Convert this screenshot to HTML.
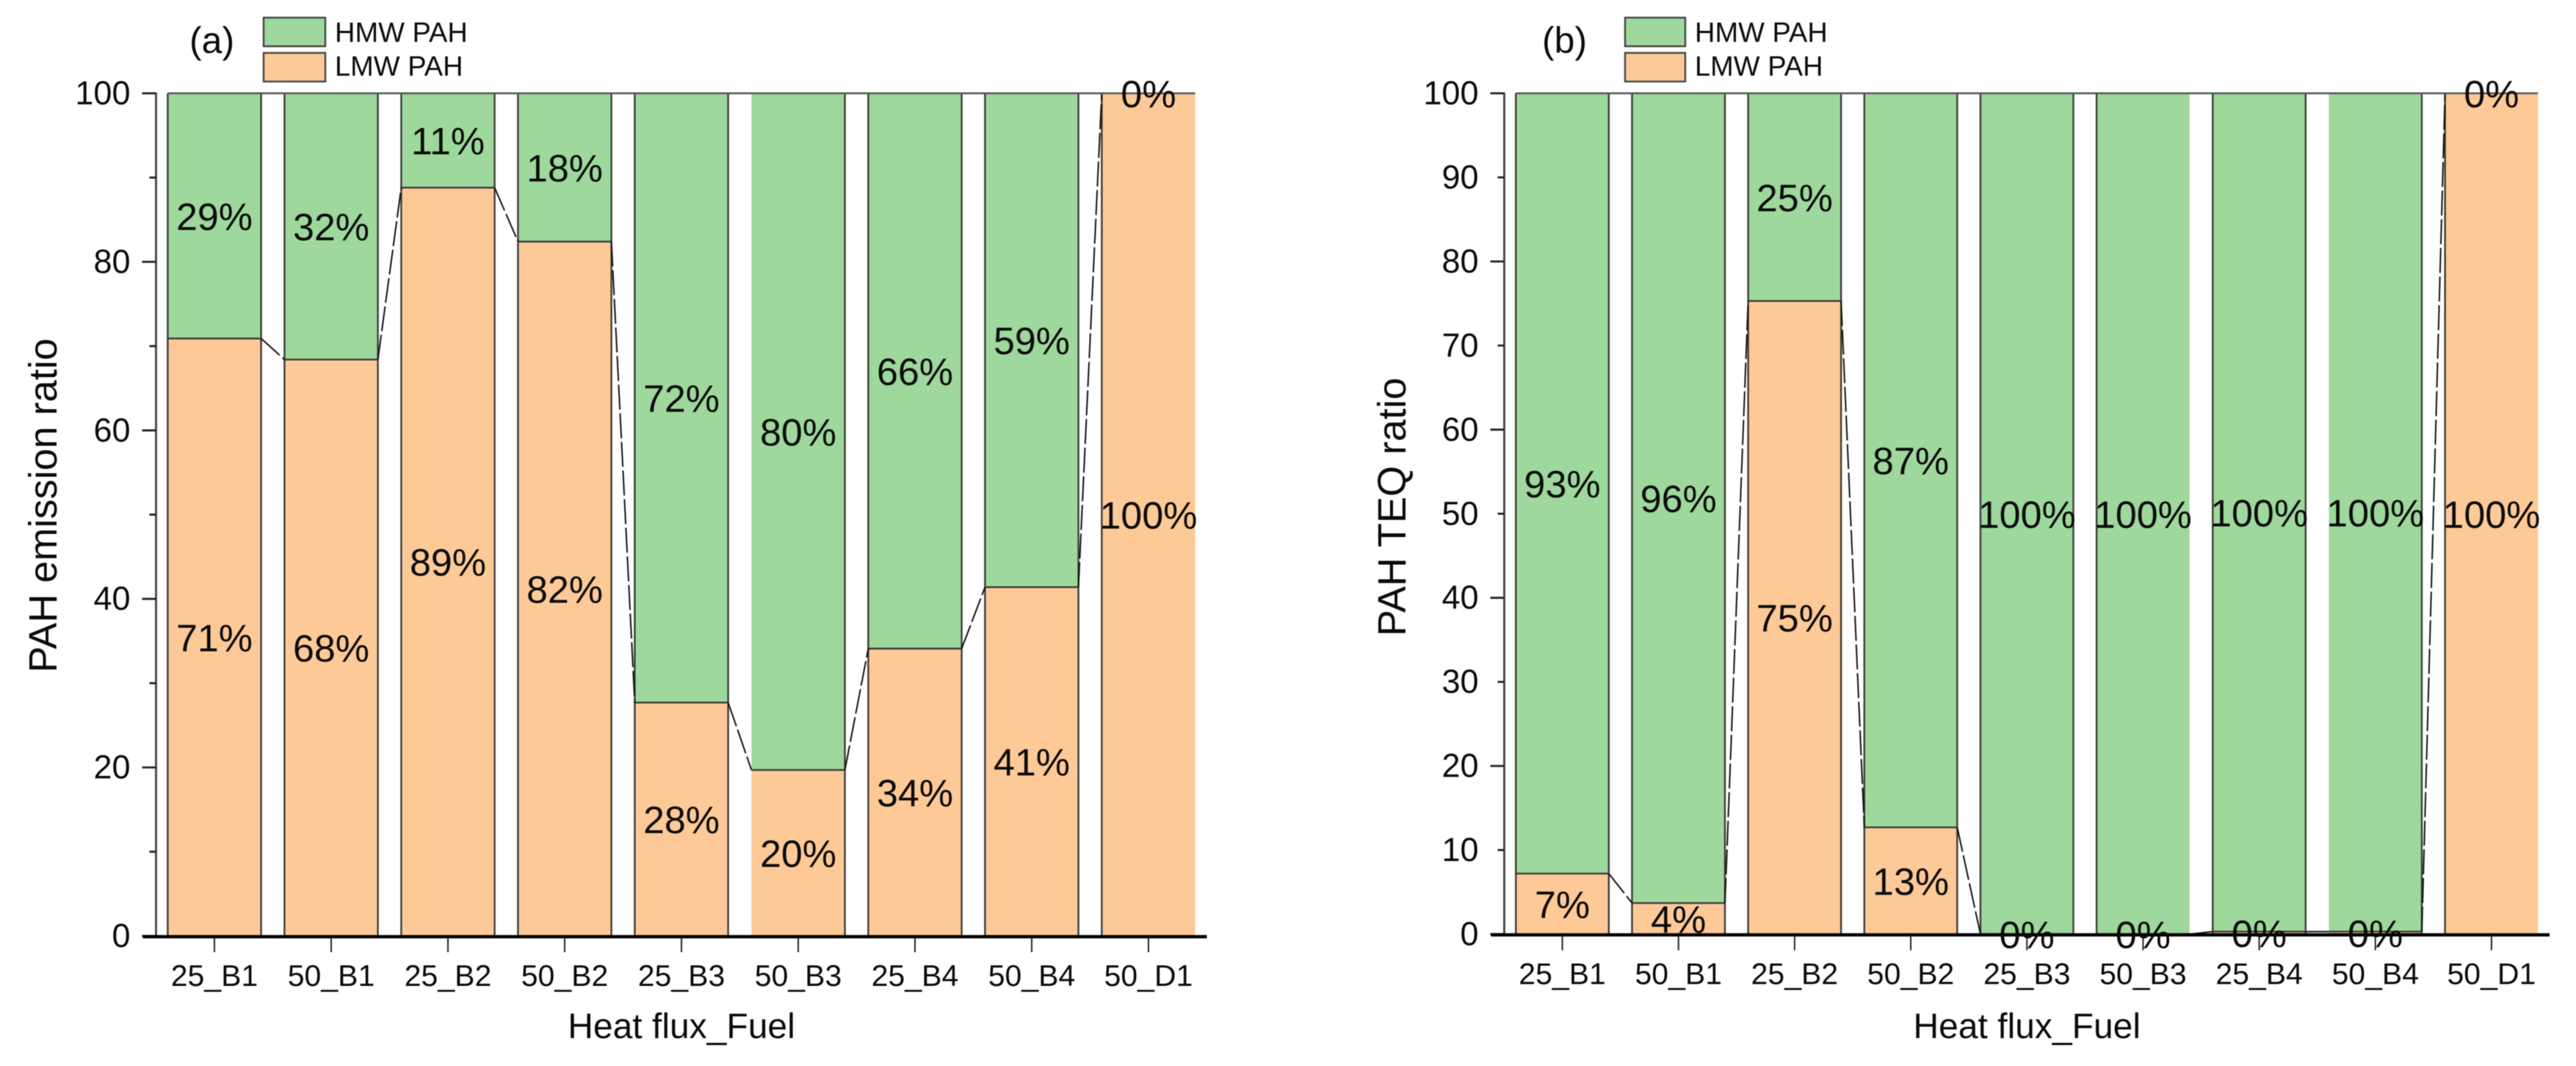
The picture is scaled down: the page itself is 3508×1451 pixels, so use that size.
<!DOCTYPE html>
<html lang="en">
<head>
<meta charset="utf-8">
<title>PAH emission and TEQ ratios</title>
<style>
html,body{margin:0;padding:0;background:#fff;width:3508px;height:1451px;overflow:hidden}
svg{display:block;filter:blur(0.6px)}
text{font-family:"Liberation Sans",Arial,sans-serif;fill:#0a0a0a}
</style>
</head>
<body>
<svg id="figure" xmlns="http://www.w3.org/2000/svg" width="3508" height="1451" viewBox="0 0 3508 1451"></svg>
<script>
const categories = ['25_B1','50_B1','25_B2','50_B2','25_B3','50_B3','25_B4','50_B4','50_D1'];
const lmwEmission = [70.9,68.4,88.8,82.4,27.7,19.7,34.1,41.4,100];
const hmwEmission = [29.1,31.6,11.2,17.6,72.3,80.3,65.9,58.6,0];
const lmwTeq = [7.2,3.7,75.3,12.7,0,0,0.3,0.3,100];
const hmwTeq = [92.8,96.3,24.7,87.3,100,100,99.7,99.7,0];
const emissionTicks = [0,10,20,30,40,50,60,70,80,90,100];
const emissionTickLabels = ['0','','20','','40','','60','','80','','100'];
const teqTicks = [0,10,20,30,40,50,60,70,80,90,100];
const teqTickLabels = ['0','10','20','30','40','50','60','70','80','90','100'];

const svg = document.getElementById('figure');
const NS = 'http://www.w3.org/2000/svg';
const GREEN = '#9ED89C', ORANGE = '#FDC997', EDGE = '#3a3a3a';

function make(tag, geometry, parent) {
  const el = document.createElementNS(NS, tag);
  for (const k in geometry) el.setAttribute(k, geometry[k]);
  (parent || svg).appendChild(el);
  return el;
}
function label(str, x, y, size, anchor, parent) {
  const t = make('text', {x: x, y: y, 'font-size': size, 'text-anchor': anchor || 'middle'}, parent);
  t.textContent = str;
  return t;
}

function drawPanel(p) {
  const g = make('g', {});
  
  
  const n = categories.length;
  const step = (p.xRight - p.xLeft) / n;
  const xCenter = i => p.xLeft + step * (i + 0.5);
  const yScale = v => p.yZero - (v / 100) * (p.yZero - p.yTop);
  const barW = step * 0.8;

  // stacked bars
  categories.forEach((c, i) => {
    const x = xCenter(i) - barW / 2;
    const lowTop = yScale(p.lmw[i]);
    const highTop = yScale(p.lmw[i] + p.hmw[i]);
    const low = make('rect', {x: x, y: lowTop, width: barW, height: p.yZero - lowTop, fill: ORANGE}, g);
    
    
    const high = make('rect', {x: x, y: highTop, width: barW, height: Math.max(lowTop - highTop, 0), fill: GREEN}, g);
    
    
    if (!p.noLeftEdge.includes(i)) {
      const e = make('line', {x1: x, x2: x, y1: p.yTop, y2: p.yZero, stroke: EDGE, 'stroke-width': 2.4}, g);
      
      
    }
    if (!p.noRightEdge.includes(i)) {
      const e = make('line', {x1: x + barW, x2: x + barW, y1: p.yTop, y2: p.yZero, stroke: EDGE, 'stroke-width': 2.4}, g);
      
      
    }
    if (p.lmw[i] < 100) {
      const sep = make('line', {x1: x, x2: x + barW, y1: lowTop, y2: lowTop, stroke: EDGE, 'stroke-width': 2.4}, g);
      
      
    }
  });

  // connecting lines between stacks
  for (let i = 0; i < n - 1; i++) {
    const conn = make('line', {
      x1: xCenter(i) + barW / 2, y1: yScale(p.lmw[i]),
      x2: xCenter(i + 1) - barW / 2, y2: yScale(p.lmw[i + 1]),
      stroke: '#111', 'stroke-width': 2, 'stroke-dasharray': '34 5'
    }, g);
    
    
  }

  // top frame line across bars
  const topLine = make('line', {
    x1: xCenter(0) - barW / 2, x2: xCenter(n - 1) + barW / 2,
    y1: p.yTop, y2: p.yTop, stroke: '#555', 'stroke-width': 2.4
  }, g);
  
  

  // y axis
  const yAxis = make('line', {x1: p.xLeft, x2: p.xLeft, y1: p.yTop - 1, y2: p.yZero, stroke: '#444', 'stroke-width': 2.8}, g);
  
  
  p.ticks.forEach((v, i) => {
    const major = i % 2 === 0;
    const len = major ? 19 : 9;
    const t = make('line', {x1: p.xLeft - len, x2: p.xLeft, y1: yScale(v), y2: yScale(v), stroke: '#222', 'stroke-width': 2.8}, g);
    
    
    if (p.tickLabels[i]) {
      const tl = label(p.tickLabels[i], p.xLeft - 35, yScale(v) + 15, 45, 'end', g);
      
      
    }
  });

  // x axis
  const xAxis = make('line', {x1: p.xLeft - 18, x2: p.xRight, y1: p.yZero + 1, y2: p.yZero + 1, stroke: '#000', 'stroke-width': 4.5}, g);
  
  
  categories.forEach((c, i) => {
    const t = make('line', {x1: xCenter(i), x2: xCenter(i), y1: p.yZero + 2, y2: p.yZero + 22, stroke: '#222', 'stroke-width': 2}, g);
    
    
    const tl = label(c, xCenter(i), p.yZero + 68, 41, 'middle', g);
    
    
  });

  // value labels
  categories.forEach((c, i) => {
    const lowMid = yScale(p.lmw[i] / 2);
    const highMid = yScale(p.lmw[i] + p.hmw[i] / 2);
    const a = label(Math.round(p.lmw[i]) + '%', xCenter(i), lowMid + 19, 52, 'middle', g);
    
    
    const b = label(Math.round(p.hmw[i]) + '%', xCenter(i), highMid + 19, 52, 'middle', g);
    
    
  });

  // axis titles
  const xt = label('Heat flux_Fuel', (p.xLeft + p.xRight) / 2, 1413, 48, 'middle', g);
  
  
  const yt = label(p.yTitle, 0, 0, 54, 'middle', g);
  yt.setAttribute('transform', 'translate(' + p.yTitleX + ',' + p.yTitleY + ') rotate(-90)');
  
  

  // panel letter
  const letter = label(p.letter, p.letterX, 72, 50, 'start', g);
  
  

  // legend
  const sw1 = make('rect', {x: p.legendX, y: 24, width: p.legendW, height: 39, fill: GREEN, stroke: '#444', 'stroke-width': 2.4}, g);
  
  
  const sw2 = make('rect', {x: p.legendX, y: 72, width: p.legendW, height: 39, fill: ORANGE, stroke: '#444', 'stroke-width': 2.4}, g);
  
  
  const l1 = label('HMW PAH', p.legendX + p.legendW + 13, 57, 38, 'start', g);
  
  
  const l2 = label('LMW PAH', p.legendX + p.legendW + 13, 103, 38, 'start', g);
  
  
}

drawPanel({
  name: 'emission', letter: '(a)', letterX: 258, yTitle: 'PAH emission ratio', yTitleX: 77, yTitleY: 688,
  lmw: lmwEmission, hmw: hmwEmission, ticks: emissionTicks, tickLabels: emissionTickLabels,
  xLeft: 212.5, xRight: 1643.5, yTop: 127, yZero: 1274,
  noLeftEdge: [5], noRightEdge: [8],
  legendX: 359, legendW: 84
});
drawPanel({
  name: 'teq', letter: '(b)', letterX: 2100, yTitle: 'PAH TEQ ratio', yTitleX: 1914, yTitleY: 690,
  lmw: lmwTeq, hmw: hmwTeq, ticks: teqTicks, tickLabels: teqTickLabels,
  xLeft: 2048.5, xRight: 3472, yTop: 127, yZero: 1271.5,
  noLeftEdge: [7], noRightEdge: [5, 8],
  legendX: 2213, legendW: 82
});
</script>
</body>
</html>
